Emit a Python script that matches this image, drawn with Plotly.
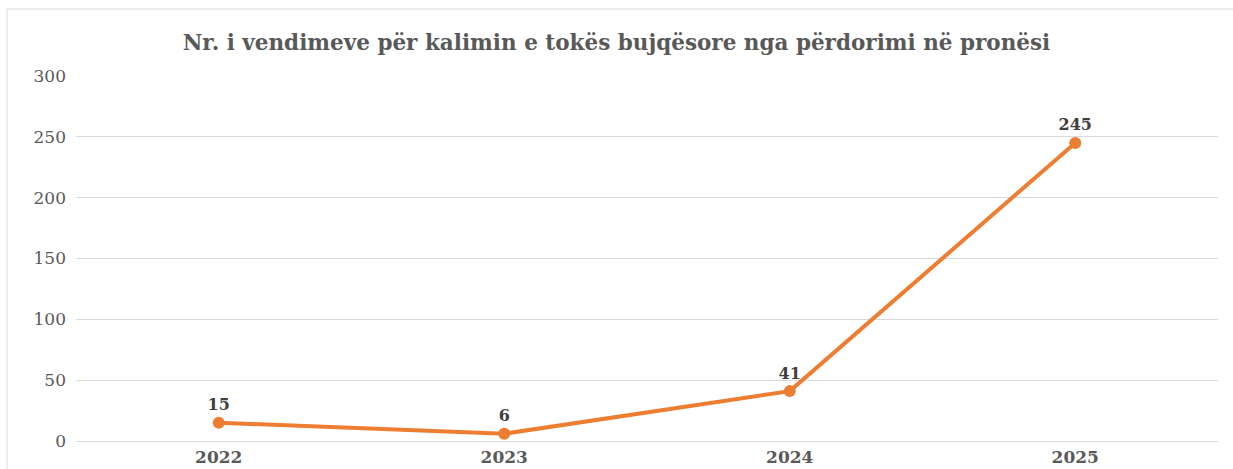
import plotly.graph_objects as go

years = ["2022", "2023", "2024", "2025"]
decisions = [15, 6, 41, 245]
y_ticks = [0, 50, 100, 150, 200, 250, 300]

W, H = 1233, 469
L, R, T, B = 76, 15, 76, 28
pw, ph = W - L - R, H - T - B

fig = go.Figure()
fig.add_trace(go.Scatter(
    x=years, y=decisions, mode="lines+markers+text",
    line=dict(color="#ED7D31", width=4),
    marker=dict(color="#ED7D31", size=12),
    text=[str(v) for v in decisions], textposition="top center",
    textfont=dict(family="DejaVu Serif", size=16, color="#404040", weight="bold"),
    cliponaxis=False, hoverinfo="skip", showlegend=False,
))

def px_x(p):
    return (p - L) / pw

def px_y(p):
    return (H - B - p) / ph

fig.add_shape(type="line", xref="paper", yref="paper",
              x0=px_x(7), x1=px_x(1233), y0=px_y(9), y1=px_y(9),
              line=dict(color="#D9D9D9", width=1))
fig.add_shape(type="line", xref="paper", yref="paper",
              x0=px_x(7), x1=px_x(7), y0=px_y(9), y1=px_y(469),
              line=dict(color="#D9D9D9", width=1))

fig.update_layout(
    width=W, height=H,
    margin=dict(l=L, r=R, t=T, b=B, autoexpand=False),
    paper_bgcolor="white", plot_bgcolor="white",
    title=dict(text="<b>Nr. i vendimeve për kalimin e tokës bujqësore nga përdorimi në pronësi</b>",
               x=0.5, xanchor="center", y=1 - 42 / H, yanchor="middle",
               font=dict(family="DejaVu Serif", size=21.5, color="#595959")),
    xaxis=dict(type="category", range=[-0.5, 3.5], showgrid=False, showline=False, ticks="",
               automargin=False, ticklabelstandoff=4,
               tickfont=dict(family="DejaVu Serif", size=17, color="#595959", weight="bold")),
    yaxis=dict(range=[0, 300], tickvals=y_ticks, showgrid=True, gridcolor="#D9D9D9",
               gridwidth=1, zeroline=True, zerolinecolor="#D9D9D9", zerolinewidth=1,
               showline=False, ticks="", ticklabelstandoff=9, automargin=False,
               tickfont=dict(family="DejaVu Serif", size=17, color="#595959")),
)

fig.write_html("out.html", config={"displayModeBar": False},
               post_script="document.body.style.margin='0';")
